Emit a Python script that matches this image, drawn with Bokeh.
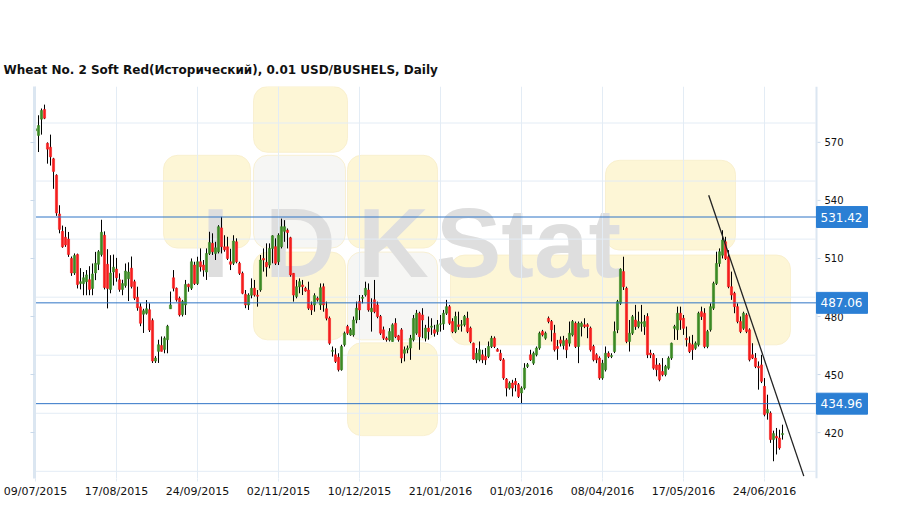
from bokeh.plotting import figure
from bokeh.models import (FixedTicker, Span, Label, LinearAxis, BoxAnnotation,
                          ColumnDataSource, Range1d)
from bokeh.core.properties import value
from bokeh.embed import file_html
from bokeh.resources import INLINE

title_text = "Wheat  No. 2 Soft Red(Исторический), 0.01 USD/BUSHELS, Daily"

tick_labels = ["09/07/2015", "17/08/2015", "24/09/2015", "02/11/2015", "10/12/2015",
               "21/01/2016", "01/03/2016", "08/04/2016", "17/05/2016", "24/06/2016"]
tick_step = 27  # trading days between date labels

y_ticks = [420, 450, 480, 510, 540, 570]
grid_levels = [400, 430, 460, 490, 520, 550, 580]
levels = [531.42, 487.06, 434.96]
trend_x = [224.4, 256.1]
trend_y = [542.7, 397.5]

opens = [576, 573.6, 582, 587, 569.5, 567.5, 561.5, 553, 533, 524,
         521, 520, 510, 502.5, 512, 497, 497, 498, 499, 494.5,
         502.5, 507, 512, 522, 507, 494, 503, 504.5, 499, 494,
         496, 499.5, 505, 498, 490, 485, 481.2, 481.7, 483.5, 478,
         457, 462, 465, 463, 468, 484, 500, 494.6, 489.4, 481,
         486, 496.6, 494.6, 506.6, 497, 508.3, 506.6, 503, 512.6, 517.8,
         512.6, 513.5, 525.8, 516, 516, 508.3, 507.5, 518.6, 507.5, 502.3,
         491.5, 486, 491, 494.6, 491, 493.7, 510, 508, 506.6, 515.2,
         516.1, 508.3, 516.1, 524, 524.6, 520.7, 502.3, 490.3, 495.4, 496.3,
         494.6, 493.7, 486, 486, 489.4, 486, 495.4, 484, 479.1, 462,
         460.2, 459, 452.5, 465.4, 474.8, 470.5, 470.5, 478.2, 487.7, 489.4,
         491.1, 493.7, 482.5, 488.6, 486, 480, 473.1, 468.8, 467.9, 467.1,
         476.5, 470, 473.1, 461, 462.8, 463.7, 468, 471.4, 481.7, 480.8,
         468.8, 474, 474.5, 473.1, 472.2, 476, 476.2, 481.7, 485.1, 477.4,
         472.2, 475.7, 475.5, 475.7, 479.1, 474, 466.2, 457.6, 457.6, 460.2,
         459.4, 459.4, 464.5, 468.8, 463, 461, 457.6, 447.7, 443, 445.6,
         446.5, 444.8, 440.5, 443, 454.2, 460.2, 455.9, 460.2, 463.7, 472.2,
         468.8, 479.1, 477.4, 471.4, 464.5, 467.9, 465, 467.9, 466.2, 470.5,
         476.5, 464.5, 474.8, 475.7, 475.7, 474, 464.5, 460.2, 458.5, 448.2,
         452.5, 461, 459.4, 461.9, 473.1, 486.8, 503.2, 494.6, 467.1, 471.4,
         478.2, 474.8, 476.5, 474.8, 480, 461.1, 460.2, 455, 455, 451.6,
         450, 453.3, 458.5, 473.9, 473.1, 481.7, 479.1, 468.8, 466.2, 465.4,
         463.6, 465.4, 482.5, 481.7, 464.5, 473.1, 484.3, 497.1, 507.4, 511.7,
         518.6, 510.9, 495.4, 492, 485.1, 477.4, 473.9, 480.8, 473.1, 460.2,
         458.5, 454.2, 455, 443.9, 430.1, 430.1, 416.4, 418.1, 417.2, 419]
highs = [580, 584, 587.5, 589.5, 570, 574, 562, 553.5, 537.5, 527,
         526.3, 523.7, 511, 512.6, 512.5, 505, 503, 504, 506, 507.4,
         513.4, 514.3, 530, 524, 514.8, 511.7, 512, 510.3, 502.3, 499,
         507.4, 508, 511, 499, 495.4, 486.8, 484, 488.5, 486.8, 479,
         459.5, 468, 469.7, 469.7, 475.7, 492.9, 504, 495, 490.3, 488.6,
         498.9, 497, 510, 508.3, 510.9, 515.2, 509.2, 515.2, 523.8, 523,
         518.6, 527.2, 531.5, 522, 521.2, 515, 522, 520.4, 508.3, 503.2,
         493.7, 492, 499.7, 498.9, 493.7, 511.8, 515.2, 517.8, 517.8, 522,
         520.4, 523, 530.6, 529.8, 525.5, 521.2, 502.5, 498.9, 499.7, 498.9,
         495.4, 498, 487.7, 492, 490.3, 497.1, 497.1, 487.7, 480, 464.5,
         463.6, 461, 465.4, 472.2, 475.7, 474, 480, 487.7, 491.1, 491.1,
         498, 497.1, 489.4, 498.9, 487.7, 480.8, 474.8, 469.6, 474, 476.5,
         479.1, 470.5, 474, 464.5, 465, 470.5, 480.8, 483.4, 482.5, 484.3,
         475.7, 480, 479.1, 475.7, 478.2, 480.8, 483.4, 488.6, 486, 479.1,
         482.5, 482.5, 478.2, 480.8, 482.5, 474.8, 466.5, 463.7, 467.1, 462.8,
         463.7, 467.1, 470, 469.7, 463.7, 462.8, 458.5, 448.2, 446.5, 447.3,
         448.2, 445.6, 443.9, 455.9, 456, 462.8, 461.9, 464.5, 472.2, 473.1,
         472.2, 480, 478.2, 475.7, 467.9, 469.7, 470, 468.8, 477.4, 478.2,
         477.4, 477.4, 477.4, 479.1, 476.5, 474.8, 465.4, 461, 459.4, 457.6,
         464.5, 462, 461, 477.4, 488.6, 504.9, 510.9, 495.4, 478.2, 480.8,
         486, 482.5, 486, 480.8, 481.7, 462.8, 461.1, 458.5, 455.9, 458.5,
         455, 459.4, 466.5, 475.7, 485.1, 485.1, 480.8, 474.8, 469.7, 470.5,
         467.1, 482.5, 485.1, 484.3, 473.1, 486.8, 498, 513.5, 515.2, 524.6,
         521.2, 514.3, 503.2, 492.8, 486.8, 480, 482.5, 481.7, 473.9, 466.2,
         461.1, 456.8, 460.2, 448.2, 439.6, 431, 421, 422.4, 421.5, 424.1]
lows = [573, 565, 574, 582, 559, 558, 546, 532, 523, 515.5,
        516, 510.8, 501, 501.5, 494.5, 494, 491, 491, 491, 491,
        498.8, 504, 511, 494, 484.2, 492, 496, 498, 492.8, 491,
        494.9, 488, 494.5, 488.5, 483, 475, 471.5, 481, 472, 456,
        456, 456, 461.9, 461, 461, 484, 493, 487.7, 480, 480,
        480.8, 492.8, 493.7, 496.3, 496.3, 503.2, 500.6, 498.9, 511.8, 511.8,
        509.2, 512.6, 512.6, 513.5, 509.2, 504, 506.6, 507.5, 501.5, 491.5,
        484.3, 483.4, 489.4, 490.3, 485.1, 492.8, 503.2, 500.6, 504.9, 507.5,
        506.6, 506.6, 515.2, 518.6, 515.2, 500.6, 487.7, 489.4, 492, 491.1,
        492.8, 483.4, 480.8, 482.5, 487.7, 483.4, 482.5, 478, 465.4, 459.3,
        456, 451.6, 452, 464.5, 470.5, 470, 469.6, 476.5, 478.2, 486.8,
        490.3, 482.5, 472.2, 481.7, 479.1, 470.5, 467.9, 467, 467.1, 467,
        468.8, 467, 455.9, 456.8, 461, 457.6, 467.1, 470.5, 462.8, 468.8,
        467.1, 468, 470.5, 469.6, 470.5, 472.2, 473.1, 480.8, 475.7, 471.4,
        471.4, 473.1, 472.2, 474.8, 471.4, 466.2, 457.6, 455.9, 456.8, 455.9,
        455, 458.5, 463.7, 463.7, 461.9, 457, 447.3, 438.7, 442.2, 438.7,
        441.3, 437.9, 435.3, 442.2, 453.4, 457, 455, 459.4, 462.8, 469.7,
        468, 476.5, 467.1, 461.9, 457.6, 464.5, 463, 458.5, 464.5, 469.7,
        463.7, 455.9, 469.7, 474, 468.8, 461.9, 456.8, 455.9, 447.3, 447.3,
        451.6, 458.5, 458.5, 461.1, 471.4, 486, 493.7, 466.2, 461.9, 470.5,
        473.1, 473.9, 472.2, 470.5, 458.5, 458.5, 452.5, 449.1, 446.5, 449.1,
        449.1, 452.5, 457.6, 467.9, 467.9, 473.1, 470.5, 464.5, 461.1, 457.6,
        462.8, 464.5, 478.2, 463.6, 463.6, 472.2, 483.4, 496.3, 505.7, 510,
        509.2, 494.6, 488.6, 481.7, 476.5, 471.4, 473.1, 471.4, 456.8, 458,
        453.3, 442.2, 445.6, 428.4, 426.7, 414.7, 405.2, 408.7, 411.2, 416.4]
closes = [577, 578.7, 586.5, 582.5, 566.5, 562.5, 555, 533.5, 525, 516,
          517, 512, 502.5, 511.5, 496.5, 498, 500, 501.5, 494, 502,
          507.5, 513.5, 523.5, 495, 494.5, 502.5, 505.5, 500, 494, 497,
          503.5, 503, 495.5, 489.5, 484.5, 476.5, 483, 484, 473, 457,
          458.5, 465.4, 462, 468.8, 475, 486, 494.6, 488.6, 480.8, 487.7,
          496.6, 495.4, 508.3, 497, 508.3, 505.7, 504, 512.6, 518.3, 513.5,
          515.5, 526.4, 516.1, 514.5, 510, 507, 519, 508.3, 502.3, 492,
          486, 491.1, 494.6, 491.1, 490.5, 509.2, 509.2, 505.7, 515.2, 521.7,
          507.5, 522, 526.4, 526.4, 523.4, 501.5, 491.1, 495.4, 498, 495.4,
          493.2, 484.3, 483.4, 490.8, 488.6, 494.9, 486, 479.1, 466.2, 462.5,
          456.8, 452.5, 464.5, 471.4, 471.4, 473.1, 478.2, 484.3, 483.4, 489.9,
          494.6, 483.4, 484.3, 482.5, 480, 471.4, 468.8, 468, 472.2, 475.7,
          469.6, 468, 458.5, 462.8, 463.6, 468.8, 479, 481.7, 469.6, 478.2,
          474, 472.2, 475, 471.4, 475.7, 476.2, 481.7, 485.1, 476.5, 472.2,
          480, 474.8, 475.7, 480, 472.2, 467.1, 458, 461, 462.8, 457.6,
          457.6, 464.5, 468.8, 464.5, 462, 457.6, 448.2, 443, 445.6, 443,
          444.8, 438.7, 443, 453.4, 455.1, 457.6, 461, 463.7, 471.4, 470.5,
          471.4, 477.4, 473.1, 462.8, 463.5, 466.2, 467.5, 462.8, 471.4, 477.4,
          464.5, 476.5, 476.5, 474.8, 474.8, 462.8, 457.6, 457.6, 448.2, 455.9,
          461, 459.4, 459.8, 472.2, 487.7, 504.4, 495.4, 467.1, 471.4, 479.9,
          474.8, 477.4, 477, 477.4, 460.2, 460.2, 453.3, 452.5, 447.3, 449.9,
          454.2, 458.5, 466.2, 474.8, 481.7, 478.2, 473.9, 468, 461.9, 462.8,
          466.2, 481.7, 480, 464.5, 472.2, 485.1, 497.1, 507.4, 513.5, 519.5,
          510, 495.4, 491.1, 485.1, 477.4, 472.2, 481.7, 472.2, 457.6, 458.5,
          454.2, 453.5, 446.5, 429.3, 431.9, 416.4, 419.5, 417.2, 412.1, 419.5]

# ---------------- layout helpers: page pixels -> data coordinates
X0_PAGE, X_STEP = 35.0, 3.0
Y_REF_PAGE, Y_REF_VAL, Y_PX_PER_UNIT = 142.0, 570.0, 1.94


def px_x(xp):
    return (xp - X0_PAGE) / X_STEP


def px_y(yp):
    return Y_REF_VAL - (yp - Y_REF_PAGE) / Y_PX_PER_UNIT


FRAME_L, FRAME_R, FRAME_T, FRAME_B = 34, 870, 86, 479
AXIS_X = 816
W, H = 893, 500

n = len(opens)
idx = list(range(n))
up = [i for i in idx if closes[i] >= opens[i]]
dn = [i for i in idx if closes[i] < opens[i]]

x_lo, x_hi = px_x(FRAME_L), px_x(FRAME_R)
p = figure(width=W, height=H, output_backend="svg", toolbar_location=None,
           x_range=Range1d(x_lo, x_hi), y_range=Range1d(px_y(FRAME_B), px_y(FRAME_T)),
           min_border_left=FRAME_L, min_border_right=W - FRAME_R,
           min_border_top=FRAME_T, min_border_bottom=H - FRAME_B,
           x_axis_location="below", y_axis_location=None,
           background_fill_color="white", border_fill_color="white")
p.outline_line_color = None

# ---- title
p.title.text = title_text
p.title.align = "left"
p.title.offset = -31
p.title.text_font = "DejaVu Sans"
p.title.text_font_size = "12px"
p.title.text_font_style = "bold"
p.title.text_color = "#111111"
p.title.standoff = 20

# ---- watermark (decorative, beneath the grid)
yellow = "#fdf6d6"
greyish = "#f6f6f4"
boxes = [((253, 86, 347, 152), yellow),
         ((163, 155, 250, 248), yellow),
         ((253, 155, 345, 248), greyish),
         ((347, 155, 437, 248), yellow),
         ((253, 252, 345, 340), yellow),
         ((347, 252, 437, 340), greyish),
         ((347, 343, 437, 436), yellow),
         ((450, 255, 790, 345), yellow),
         ((605, 160, 735, 250), yellow)]
for (x0, y0, x1, y1), col in boxes:
    p.add_layout(BoxAnnotation(left=px_x(x0), right=px_x(x1), top=px_y(y0), bottom=px_y(y1),
                               fill_color=col, fill_alpha=1.0, line_color="#f7eecb",
                               line_alpha=0.8, border_radius=14, level="image"))
for txt, xp in [("I", 215), ("D", 300), ("K", 393), ("Stat", 528)]:
    p.add_layout(Label(x=px_x(xp), y=px_y(243), text=txt,
                       text_font="'Liberation Sans Narrow', 'Liberation Sans', sans-serif",
                       text_font_size="98px", text_font_style="bold", text_color="#dedede",
                       text_align="center", text_baseline="alphabetic", level="image"))

# ---- x axis & vertical grid
grid_col = "#e3ecf5"
p.xaxis.ticker = FixedTicker(ticks=[k * tick_step for k in range(len(tick_labels))])
p.xaxis.major_label_overrides = {k * tick_step: lab for k, lab in enumerate(tick_labels)}
p.xaxis.axis_line_color = None
p.xaxis.major_tick_line_color = grid_col
p.xaxis.major_tick_in = 0
p.xaxis.major_tick_out = 3
p.xaxis.minor_tick_line_color = None
p.xaxis.major_label_standoff = 3
p.xaxis.major_label_text_font = "DejaVu Sans"
p.xaxis.major_label_text_font_size = "11px"
p.xaxis.major_label_text_color = "#111111"
p.xgrid.grid_line_color = grid_col
p.ygrid.grid_line_color = None

# ---- left axis (ticks only)
left_axis = LinearAxis(ticker=FixedTicker(ticks=y_ticks), axis_line_color="#dbe6f1",
                       axis_line_width=3, major_tick_line_color="#c9d9ea", major_tick_in=0,
                       major_tick_out=4, minor_tick_line_color=None,
                       major_label_text_color=None, major_label_text_font_size="1px")
p.add_layout(left_axis, "left")

# ---- horizontal grid (stops at the right price axis)
p.segment(x0=[x_lo] * len(grid_levels), x1=[px_x(AXIS_X - 1)] * len(grid_levels),
          y0=grid_levels, y1=grid_levels, line_color=grid_col, line_width=1, level="underlay")

# ---- right price axis drawn inside the frame
p.add_layout(Span(location=px_x(AXIS_X), dimension="height", line_color="#dbe6f1",
                  line_width=2, level="underlay"))
p.segment(x0=[px_x(AXIS_X + 1)] * len(y_ticks), x1=[px_x(AXIS_X + 4)] * len(y_ticks),
          y0=y_ticks, y1=y_ticks, line_color="#c9d9ea", line_width=1)
p.text(x=[px_x(AXIS_X + 8)] * len(y_ticks), y=y_ticks, text=[str(t) for t in y_ticks],
       text_font=value("DejaVu Sans"), text_font_size="10px", text_color="#111111",
       text_baseline="middle", text_align="left")

# ---- candles
src_up = ColumnDataSource(dict(x=up, o=[opens[i] for i in up], c=[closes[i] for i in up],
                               h=[highs[i] for i in up], l=[lows[i] for i in up]))
src_dn = ColumnDataSource(dict(x=dn, o=[opens[i] for i in dn], c=[closes[i] for i in dn],
                               h=[highs[i] for i in dn], l=[lows[i] for i in dn]))
for src in (src_up, src_dn):
    p.segment(x0="x", y0="h", x1="x", y1="l", source=src, line_color="black", line_width=1)
p.vbar(x="x", width=0.72, top="c", bottom="o", source=src_up,
       fill_color="#3b8a24", line_color="#3b8a24", line_width=0.6)
p.vbar(x="x", width=0.72, top="o", bottom="c", source=src_dn,
       fill_color="#f51d1d", line_color="#f51d1d", line_width=0.6)

# ---- level lines with value boxes
half_box = 10.5 / Y_PX_PER_UNIT
p.segment(x0=[x_lo] * len(levels), x1=[px_x(AXIS_X)] * len(levels), y0=levels, y1=levels,
          line_color="#2f74c6", line_width=1)
p.quad(left=[px_x(AXIS_X)] * len(levels), right=[px_x(867)] * len(levels),
       top=[v + half_box for v in levels], bottom=[v - half_box for v in levels],
       fill_color="#2b7fd4", line_color="#2b7fd4")
p.text(x=[px_x(AXIS_X + 4)] * len(levels), y=levels, text=[f"{v:.2f}" for v in levels],
       text_font=value("DejaVu Sans"), text_font_size="12px", text_color="white",
       text_baseline="middle", text_align="left")

# ---- trend line
p.line(trend_x, trend_y, line_color="#222222", line_width=1.3)

open("out.html", "w").write(file_html(p, INLINE))
